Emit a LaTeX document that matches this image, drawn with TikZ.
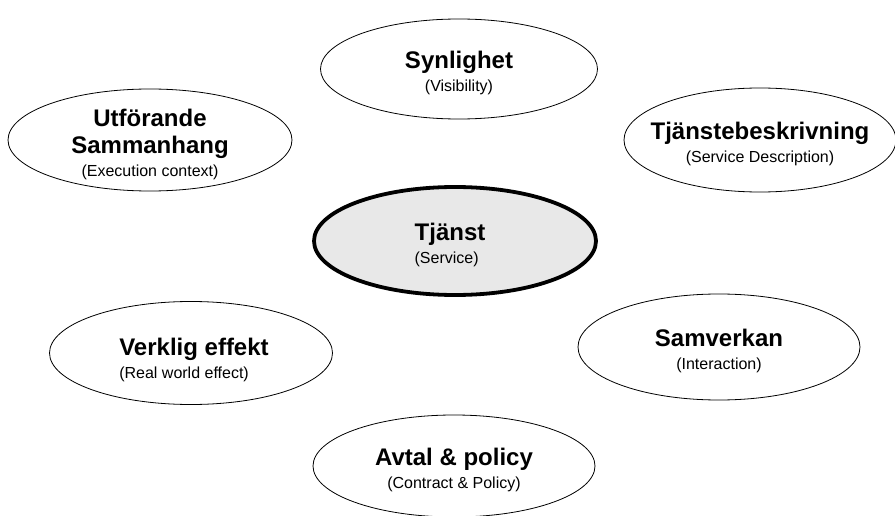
\documentclass[tikz,border=0pt]{standalone}
\usepackage{fontspec}
\setmainfont{Liberation Sans}
\usetikzlibrary{shapes.geometric}
\definecolor{servicegray}{HTML}{E8E8E8}

\begin{document}
\begin{tikzpicture}
  [x=1pt, y=-1pt,
   oval/.style={draw, ellipse, line width=0.8pt, inner sep=0pt},
   core/.style={oval, line width=3.8pt, fill=servicegray},
   caption/.style={align=center, inner sep=0pt, yshift=-4pt, font=\fontsize{16}{23}\selectfont}]
  \useasboundingbox (0,0) rectangle (895,516);
  % the ovals
  \node [oval, minimum width=277, minimum height=100] (synlighet) at (459,69) {};
  \node [oval, minimum width=284, minimum height=102] (utforande) at (150,140) {};
  \node [oval, minimum width=272, minimum height=104] (beskrivning) at (760,140) {};
  \node [core, minimum width=282, minimum height=108] (tjanst) at (455,241) {};
  \node [oval, minimum width=283, minimum height=103] (verklig) at (191,353) {};
  \node [oval, minimum width=282, minimum height=106] (samverkan) at (719,347) {};
  \node [oval, minimum width=282, minimum height=102] (avtal) at (454,466) {};
  % the texts
  \node [caption] (synlighet-t) at (synlighet) {{\bfseries\fontsize{24}{27}\selectfont Synlighet}\\(Visibility)};
  \node [caption] (utforande-t) at (utforande) {{\bfseries\fontsize{24}{27}\selectfont Utförande}\\[4pt]{\bfseries\fontsize{24}{27}\selectfont Sammanhang}\\(Execution context)};
  \node [caption] (beskrivning-t) at (beskrivning) {{\bfseries\fontsize{24}{27}\selectfont Tjänstebeskrivning}\\(Service Description)};
  \node [caption, align=left, xshift=-5pt] (tjanst-t) at (tjanst) {{\bfseries\fontsize{24}{27}\selectfont Tjänst}\\(Service)};
  \node [caption, align=left, xshift=3pt, yshift=-3pt] (verklig-t) at (verklig) {{\bfseries\fontsize{24}{27}\selectfont Verklig effekt}\\(Real world effect)};
  \node [caption] (samverkan-t) at (samverkan) {{\bfseries\fontsize{24}{27}\selectfont Samverkan}\\(Interaction)};
  \node [caption] (avtal-t) at (avtal) {{\bfseries\fontsize{24}{27}\selectfont Avtal \& policy}\\(Contract \& Policy)};
\end{tikzpicture}
\end{document}
